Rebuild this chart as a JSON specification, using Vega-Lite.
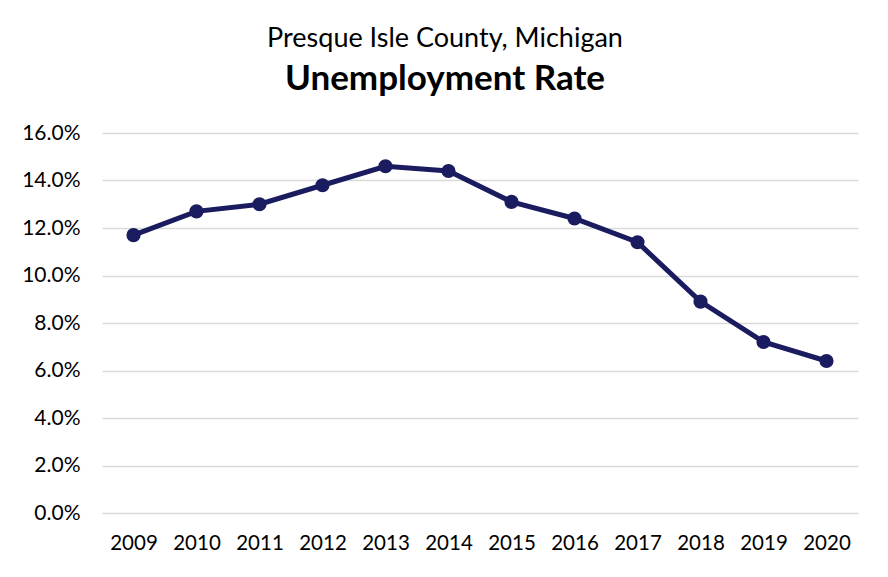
{
  "$schema": "https://vega.github.io/schema/vega-lite/v6.json",
  "width": 756,
  "height": 380,
  "autosize": "none",
  "padding": {"left": 102, "top": 133, "right": 30, "bottom": 64},
  "background": "white",
  "title": {
    "text": "Presque Isle County, Michigan",
    "subtitle": "Unemployment Rate",
    "anchor": "middle",
    "frame": "group",
    "dx": -35,
    "offset": 24,
    "font": "Lato",
    "fontSize": 27,
    "fontWeight": "normal",
    "color": "black",
    "subtitleFont": "Lato",
    "subtitleFontSize": 35,
    "subtitleFontWeight": "bold",
    "subtitleColor": "black",
    "subtitlePadding": 9
  },
  "data": {
    "values": [
      {"year": "2009", "rate": 0.117},
      {"year": "2010", "rate": 0.127},
      {"year": "2011", "rate": 0.130},
      {"year": "2012", "rate": 0.138},
      {"year": "2013", "rate": 0.146},
      {"year": "2014", "rate": 0.144},
      {"year": "2015", "rate": 0.131},
      {"year": "2016", "rate": 0.124},
      {"year": "2017", "rate": 0.114},
      {"year": "2018", "rate": 0.089},
      {"year": "2019", "rate": 0.072},
      {"year": "2020", "rate": 0.064}
    ]
  },
  "mark": {
    "type": "line",
    "color": "#1b1b5f",
    "strokeWidth": 5,
    "point": {"filled": true, "size": 200, "color": "#1b1b5f", "opacity": 1}
  },
  "encoding": {
    "x": {
      "field": "year",
      "type": "ordinal",
      "scale": {"type": "point", "padding": 0.5},
      "axis": {
        "title": null,
        "labelAngle": 0,
        "domain": false,
        "ticks": false,
        "grid": false,
        "labelFont": "Lato",
        "labelFontSize": 20.5,
        "labelColor": "black",
        "labelPadding": 20
      }
    },
    "y": {
      "field": "rate",
      "type": "quantitative",
      "scale": {"domain": [0, 0.16]},
      "axis": {
        "title": null,
        "format": ".1%",
        "values": [0, 0.02, 0.04, 0.06, 0.08, 0.1, 0.12, 0.14, 0.16],
        "domain": false,
        "ticks": false,
        "gridColor": "#d9d9d9",
        "gridWidth": 1.5,
        "labelFont": "Lato",
        "labelFontSize": 21,
        "labelColor": "black",
        "labelPadding": 22
      }
    }
  },
  "config": {
    "view": {"stroke": null}
  }
}
